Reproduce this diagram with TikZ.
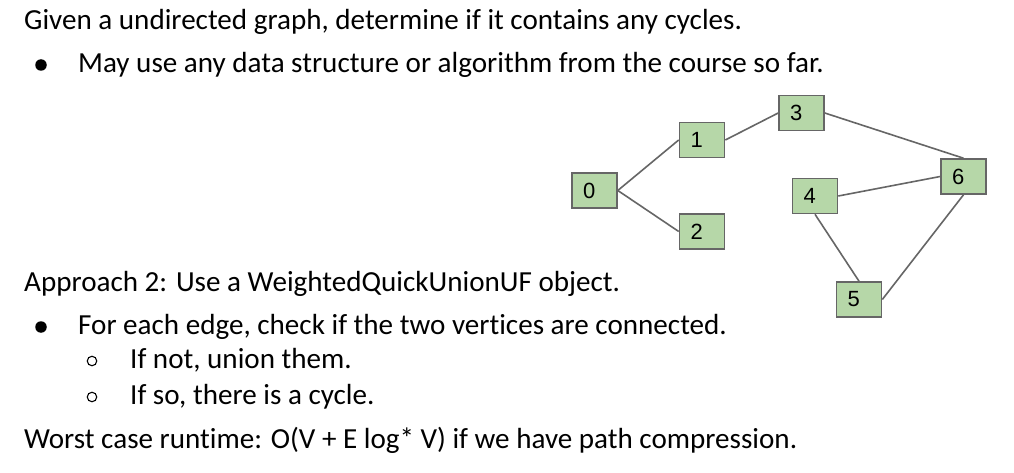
\documentclass[tikz,border=0pt]{standalone}
\usepackage{fontspec}
\setmainfont{Carlito}[Ligatures=NoCommon]
\newfontfamily\digitfont{Liberation Sans}
\definecolor{boxgreen}{HTML}{B6D7A8}
\definecolor{edgegray}{HTML}{666666}
\begin{document}
\begin{tikzpicture}[x=1pt,y=-1pt,
  txt/.style={anchor=base west, inner sep=0pt, font=\fontsize{29.1}{34}\selectfont},
  vbox/.style={draw=edgegray, line width=1.6pt, fill=boxgreen, minimum width=45pt, minimum height=35pt,
     inner xsep=11pt, inner ysep=0pt, text width=23pt, align=left, font=\digitfont\fontsize{22}{24}\selectfont},
  edge/.style={draw=edgegray, line width=1.6pt},
  fbul/.style={circle, fill=black, inner sep=0pt, minimum size=11.5pt},
  hbul/.style={circle, draw=black, line width=1.1pt, inner sep=0pt, minimum size=9.5pt}]
\useasboundingbox[fill=white] (0,0) rectangle (1014,473);

% text
\node[txt] (t1) at (24,30) {Given a undirected graph, determine if it contains any cycles.};
\node[fbul] (b1) at (41,65) {};
\node[txt] (t2) at (78,73) {May use any data structure or algorithm from the course so far.};
\node[txt] (t3) at (24,291) {Approach 2: Use a WeightedQuickUnionUF object.};
\node[fbul] (b2) at (41,327) {};
\node[txt] (t4) at (78,334) {For each edge, check if the two vertices are connected.};
\node[hbul] (b3) at (92,361) {};
\node[txt] (t5) at (130,368) {If not, union them.};
\node[hbul] (b4) at (92,397) {};
\node[txt] (t6) at (130,404) {If so, there is a cycle.};
\node[txt] (t7) at (24,448) {Worst case runtime: O(V + E log* V) if we have path compression.};

% graph
\node[vbox] (n0) at (594.5,190.5) {0};
\node[vbox] (n1) at (702,140) {1};
\node[vbox] (n2) at (702,231.5) {2};
\node[vbox] (n3) at (801.5,113) {3};
\node[vbox] (n4) at (815,196) {4};
\node[vbox] (n5) at (859,299.5) {5};
\node[vbox] (n6) at (963.5,176.5) {6};

\draw[edge] (n0.east) -- (n1.west);
\draw[edge] (n0.east) -- (n2.west);
\draw[edge] (n1.east) -- (n3.west);
\draw[edge] (n3.east) -- (n6.north);
\draw[edge] (n4.east) -- (n6.west);
\draw[edge] (n6.south) -- (n5.east);
\draw[edge] (n4.south) -- (n5.north);
\end{tikzpicture}
\end{document}
